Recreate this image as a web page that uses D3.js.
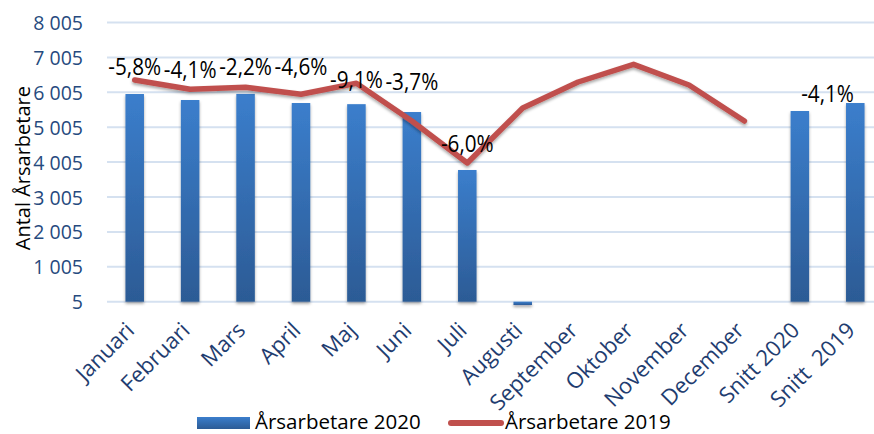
<!DOCTYPE html>
<html>
<head>
<meta charset="utf-8">
<script src="https://cdn.jsdelivr.net/npm/d3@7"></script>
<style>
  html, body { margin: 0; padding: 0; background: #fff; }
  svg { display: block; }
</style>
</head>
<body>
<svg id="chart" width="874" height="434"></svg>
<script>
// ---- data ----
const categories = ["Januari","Februari","Mars","April","Maj","Juni","Juli","Augusti","September","Oktober","November","December","Snitt 2020","Snitt  2019"];
const values2020 = [5956, 5784, 5960, 5698, 5665, 5440, 3779, -90, null, null, null, null, 5469, 5698];
const values2019 = [6357, 6091, 6148, 5948, 6263, 5183, 3979, 5555, 6300, 6807, 6214, 5183, null, null];
const yTicks = [5, 1005, 2005, 3005, 4005, 5005, 6005, 7005, 8005];
const changeLabels = ["-5,8%","-4,1%","-2,2%","-4,6%","-9,1%","-3,7%","-6,0%"];
const changeLabelCategories = ["Januari","Februari","Mars","April","Maj","Juni","Juli"];
const changeLabelAnchors = [6501, 6415, 6501, 6501, 6128, 6071, 4295];
const averageLabel = "-4,1%";
const averageLabelAnchor = 5727;
const seriesNames = ["Årsarbetare 2020", "Årsarbetare 2019"];
const yTitle = "Antal Årsarbetare";

// ---- layout ----
const svg = d3.select("#chart");
const plot = {left: 107, right: 883, top: 22.5, bottom: 301.7};
const x = d3.scaleBand().domain(categories).range([plot.left, plot.right]).paddingInner(0.666).paddingOuter(0.333);
const y = d3.scaleLinear().domain([5, 8005]).range([plot.bottom, plot.top]);
const font = "'Open Sans', sans-serif";
const tickColor = "#264a7e";

const defs = svg.append("defs");
const grad = defs.append("linearGradient").attr("id","barGrad").attr("x1",0).attr("y1",0).attr("x2",0).attr("y2",1);
grad.append("stop").attr("offset","0%").attr("stop-color","#3b7ecc");
grad.append("stop").attr("offset","100%").attr("stop-color","#2c5b95");
const lgrad = defs.append("linearGradient").attr("id","legGrad").attr("x1",0).attr("y1",0).attr("x2",0).attr("y2",1);
lgrad.append("stop").attr("offset","0%").attr("stop-color","#3b7ecc");
lgrad.append("stop").attr("offset","100%").attr("stop-color","#2c5b95");
const sh = defs.append("filter").attr("id","shadow").attr("x","-20%").attr("y","-20%").attr("width","140%").attr("height","140%");
sh.append("feDropShadow").attr("dx",0).attr("dy",2).attr("stdDeviation",1.6).attr("flood-color","#000").attr("flood-opacity",0.35);

// gridlines
const yAxis = d3.axisLeft(y).tickValues(yTicks).tickSize(0).tickPadding(0)
  .tickFormat(d => d3.format(",")(d).replace(/,/g, " "));
svg.append("g").selectAll("line").data(yTicks).join("line")
  .attr("x1", plot.left).attr("x2", 874)
  .attr("y1", d => y(d)).attr("y2", d => y(d))
  .attr("stroke", "#d5e1f0").attr("stroke-width", 2);

const gy = svg.append("g").attr("transform", `translate(${plot.left - 24},0)`).call(yAxis);
gy.select(".domain").remove();
gy.selectAll("text").attr("font-family", font).attr("font-size", 19.5).attr("fill", tickColor).attr("dy", "0.36em");

// y title
svg.append("text")
  .attr("transform", `translate(30,${(plot.top + plot.bottom) / 2 + 6}) rotate(-90)`)
  .attr("text-anchor", "middle")
  .attr("font-family", font).attr("font-size", 20).attr("fill", "#000")
  .text(yTitle);

// bars
const barData = categories.map((c, i) => ({c, v: values2020[i]})).filter(d => d.v !== null);
svg.append("g").attr("filter", "url(#shadow)").selectAll("rect").data(barData).join("rect")
  .attr("x", d => x(d.c))
  .attr("width", x.bandwidth())
  .attr("y", d => Math.min(y(d.v), y(5)))
  .attr("height", d => Math.abs(y(5) - y(d.v)))
  .attr("fill", "url(#barGrad)");

// line
const lineData = categories.map((c, i) => ({c, v: values2019[i]})).filter(d => d.v !== null);
const line = d3.line().x(d => x(d.c) + x.bandwidth() / 2).y(d => y(d.v));
svg.append("path").datum(lineData)
  .attr("d", line)
  .attr("fill", "none").attr("stroke", "#c0504d").attr("stroke-width", 5.5)
  .attr("stroke-linejoin", "round").attr("stroke-linecap", "round")
  .attr("filter", "url(#shadow)");

// change labels (slightly condensed, like the original)
const lbl = svg.append("g").attr("font-family", font).attr("font-size", 23).attr("fill", "#000").attr("text-anchor", "middle");
lbl.selectAll("text").data(changeLabels).join("text")
  .attr("transform", (d, i) => `translate(${x(changeLabelCategories[i]) + x.bandwidth() / 2},${y(changeLabelAnchors[i])}) scale(0.9,1)`)
  .text(d => d);
lbl.append("text")
  .attr("transform", `translate(${(x(categories[12]) + x(categories[13])) / 2 + x.bandwidth() / 2},${y(averageLabelAnchor)}) scale(0.9,1)`)
  .text(averageLabel);

// x labels
svg.append("g").selectAll("text").data(categories).join("text")
  .attr("transform", d => `translate(${x(d) + x.bandwidth() / 2 + 1},${plot.bottom + 30}) rotate(-45)`)
  .attr("text-anchor", "end")
  .attr("font-family", font).attr("font-size", 22).attr("fill", "#1f3d70")
  .style("white-space", "pre")
  .text(d => d);

// legend
const leg = svg.append("g").attr("font-family", font).attr("font-size", 20.5).attr("fill", "#000");
leg.append("rect").attr("x", 197).attr("y", 417).attr("width", 53).attr("height", 12).attr("fill", "url(#legGrad)");
leg.append("text").attr("x", 255).attr("y", 428.5).text(seriesNames[0]);
leg.append("line").attr("x1", 451).attr("x2", 501).attr("y1", 423).attr("y2", 423)
  .attr("stroke", "#c0504d").attr("stroke-width", 6).attr("stroke-linecap", "round");
leg.append("text").attr("x", 505).attr("y", 428.5).text(seriesNames[1]);
</script>
</body>
</html>
